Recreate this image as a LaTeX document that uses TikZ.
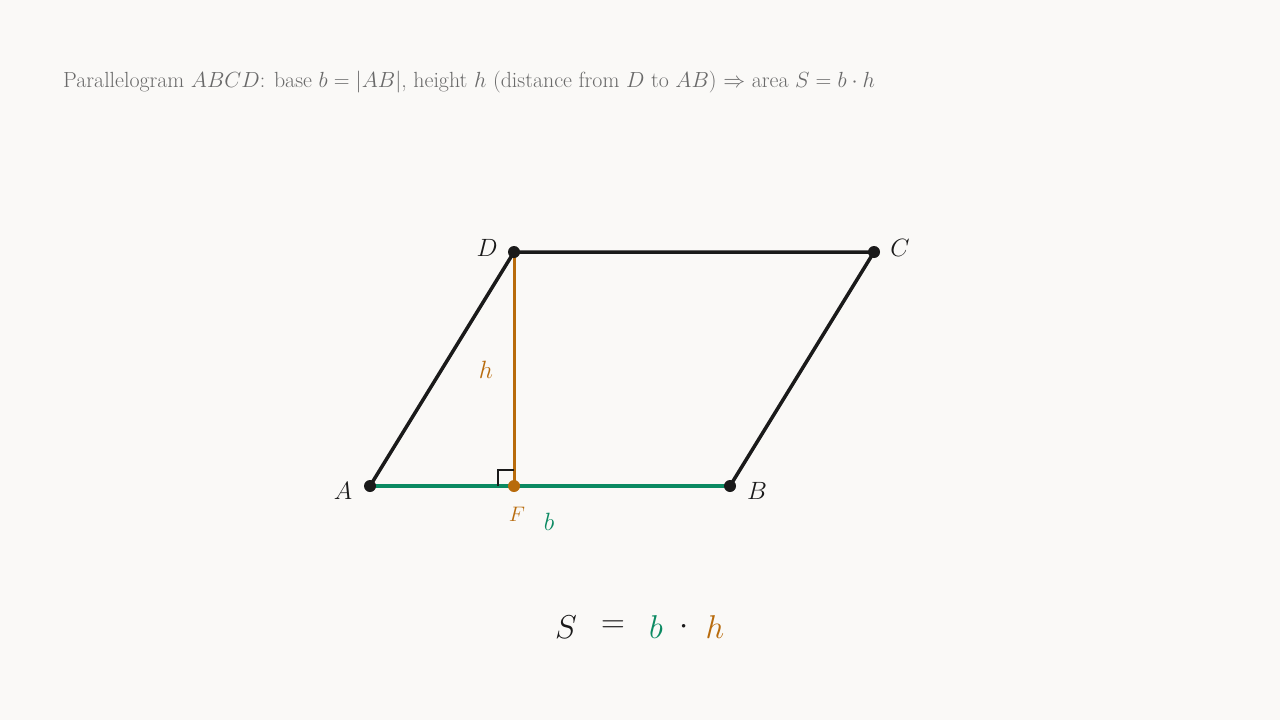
\RequirePackage{fix-cm}
\documentclass[tikz,border=0pt]{standalone}
\usepackage{xcolor}
\usetikzlibrary{calc}
\definecolor{bg}{HTML}{FAF9F7}
\definecolor{ink}{HTML}{1A1A1A}
\definecolor{grn}{HTML}{0B8A62}
\definecolor{org}{HTML}{B86B0C}
\definecolor{ttl}{HTML}{6A6A6A}
\begin{document}
\begin{tikzpicture}[x=1pt,y=-1pt,
  edge/.style={draw=ink,line width=3.5pt,line cap=round},
  vtx/.style={circle,fill=ink,inner sep=0pt,minimum size=12pt},
  lbl/.style={inner sep=0pt,text=ink,font=\fontsize{25}{30}\selectfont},
  big/.style={inner sep=0pt,font=\fontsize{33}{40}\selectfont}]
\fill[bg] (0,0) rectangle (1280,720);
\useasboundingbox (0,0) rectangle (1280,720);
\coordinate (A) at (370,486);
\coordinate (B) at (730,486);
\coordinate (C) at (874,252);
\coordinate (D) at (514,252);
\coordinate (F) at (514,486);
% title
\node[anchor=base west,inner sep=0pt,text=ttl,font=\fontsize{21.9}{26}\selectfont] (title) at (63,87)
  {Parallelogram $ABCD$: base $b=|AB|$, height $h$ (distance from $D$ to $AB$) $\Rightarrow$ area $S=b\cdot h$};
% sides
\draw[edge] (A) -- (D) -- (C) -- (B);
\draw[draw=grn,line width=3.5pt] (A) -- (B);
\draw[draw=org,line width=3pt] (D) -- (F);
% right angle
\draw[ink,line width=2pt] ($(F)+(-16,0)$) -- ($(F)+(-16,-16)$) -- ($(F)+(0,-16)$);
% vertices
\node[vtx] (vA) at (A) {};
\node[vtx] (vB) at (B) {};
\node[vtx] (vC) at (C) {};
\node[vtx] (vD) at (D) {};
\node[circle,fill=org,inner sep=0pt,minimum size=12pt] (vF) at (F) {};
% labels
\node[lbl] (lA) at (343,491) {$A$};
\node[lbl] (lB) at (757,491) {$B$};
\node[lbl] (lC) at (900,248) {$C$};
\node[lbl] (lD) at (487,248) {$D$};
\node[lbl,text=org] (lh) at (486,370) {$h$};
\node[inner sep=0pt,text=org,font=\fontsize{21}{25}\selectfont] (lF) at (517,514) {$F$};
\node[lbl,text=grn] (lb) at (549,522) {$b$};
% formula
\node[big,text=ink] (fS) at (566,627) {$S$};
\node[big,text=ink] (feq) at (613,627) {$=$};
\node[big,text=grn] (fb) at (656,627) {$b$};
\node[big,text=ink] (fdot) at (684,627) {$\cdot$};
\node[big,text=org] (fh) at (715,627) {$h$};
\end{tikzpicture}
\end{document}
